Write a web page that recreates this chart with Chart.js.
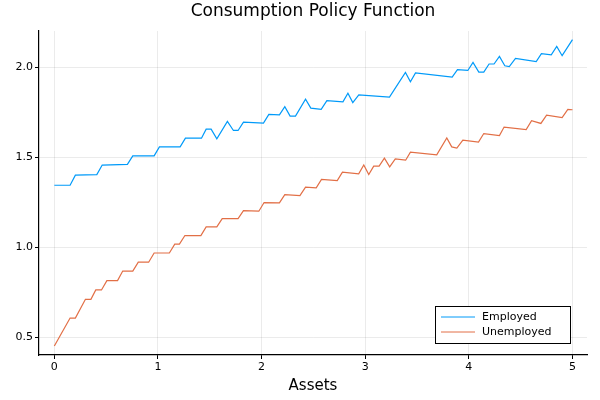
<!DOCTYPE html>
<html><head><meta charset="utf-8">
<script src="https://cdn.jsdelivr.net/npm/chart.js@4"></script>
<style>html,body{margin:0;padding:0;background:#fff}</style>
</head><body><canvas id="c" width="600" height="400" style="display:block"></canvas>
<script>
const empX=[0,0.152,0.203,0.41,0.462,0.705,0.757,0.963,1.014,1.214,1.265,1.42,1.465,1.513,1.568,1.67,1.728,1.773,1.825,2.018,2.07,2.172,2.224,2.275,2.327,2.424,2.475,2.575,2.63,2.785,2.833,2.88,2.938,3.234,3.388,3.436,3.485,3.839,3.89,3.99,4.04,4.096,4.144,4.195,4.243,4.295,4.347,4.39,4.45,4.65,4.70,4.795,4.848,4.90,5.0];
const empY=[1.344,1.344,1.40,1.403,1.456,1.46,1.507,1.507,1.557,1.557,1.605,1.605,1.655,1.655,1.602,1.698,1.648,1.648,1.694,1.689,1.737,1.735,1.78,1.728,1.728,1.822,1.772,1.765,1.813,1.807,1.855,1.803,1.846,1.833,1.97,1.918,1.967,1.944,1.985,1.981,2.026,1.972,1.972,2.017,2.017,2.059,2.007,2.003,2.048,2.03,2.074,2.068,2.114,2.063,2.152];
const unX=[0,0.152,0.203,0.30,0.353,0.40,0.455,0.507,0.61,0.66,0.757,0.81,0.91,0.963,1.11,1.162,1.207,1.26,1.414,1.465,1.568,1.62,1.773,1.825,1.973,2.024,2.172,2.224,2.37,2.424,2.527,2.578,2.73,2.78,2.937,2.986,3.034,3.082,3.134,3.185,3.236,3.29,3.39,3.436,3.69,3.787,3.835,3.884,3.942,4.093,4.144,4.295,4.34,4.553,4.605,4.695,4.75,4.90,4.955,5.0];
const unY=[0.452,0.607,0.607,0.711,0.711,0.763,0.763,0.815,0.815,0.868,0.868,0.917,0.917,0.968,0.968,1.017,1.017,1.065,1.065,1.113,1.113,1.159,1.159,1.203,1.20,1.248,1.246,1.292,1.287,1.333,1.33,1.376,1.37,1.417,1.407,1.456,1.403,1.45,1.45,1.494,1.446,1.49,1.483,1.528,1.513,1.607,1.557,1.55,1.594,1.583,1.631,1.62,1.667,1.653,1.702,1.687,1.733,1.72,1.765,1.763];
const seriesNames=["Employed","Unemployed"];
const colors=["#009af9","#e26f46"];
const xTicks=[0,1,2,3,4,5];
const yTicks=[0.5,1.0,1.5,2.0];
const pts=(xs,ys)=>xs.map((x,i)=>({x:x,y:ys[i]}));
const F="'DejaVu Sans', sans-serif";
const deco={id:'deco',afterDraw(ch){
  const c=ch.ctx,a=ch.chartArea;c.save();
  c.fillStyle='#000';c.font='17px '+F;c.textAlign='center';c.textBaseline='middle';
  c.fillText('Consumption Policy Function',(a.left+a.right)/2,12);
  c.font='15px '+F;c.fillText('Assets',(a.left+a.right)/2,386);
  const lx=435,ly=306,lw=135,lh=37;
  c.fillStyle='#fff';c.fillRect(lx,ly,lw,lh);c.strokeStyle='#000';c.lineWidth=1;c.strokeRect(lx+0.5,ly+0.5,lw,lh);
  c.font='11px '+F;c.textAlign='left';
  seriesNames.forEach((n,i)=>{const y=ly+11+i*15;c.strokeStyle=colors[i];c.beginPath();c.moveTo(lx+6,y);c.lineTo(lx+40,y);c.stroke();c.fillStyle='#000';c.fillText(n,lx+47,y);});
  c.restore();}};
new Chart(document.getElementById('c'),{type:'line',
data:{datasets:[{label:seriesNames[0],data:pts(empX,empY),borderColor:colors[0],borderWidth:1.2,pointRadius:0,tension:0},
{label:seriesNames[1],data:pts(unX,unY),borderColor:colors[1],borderWidth:1.2,pointRadius:0,tension:0}]},
options:{responsive:false,animation:false,devicePixelRatio:1,
layout:{padding:{top:31,right:13,bottom:0,left:0}},
plugins:{legend:{display:false},tooltip:{enabled:false}},
scales:{x:{type:'linear',min:-0.148,max:5.14,afterBuildTicks(s){s.ticks=xTicks.map(v=>({value:v}));},
  afterFit(s){s.height=45;},
  ticks:{color:'#000',font:{size:11,family:F},maxRotation:0,padding:2,callback:v=>String(v)},
  grid:{color:'rgba(0,0,0,0.08)',tickColor:'#000',tickLength:4},border:{color:'#000',width:1.2}},
 y:{min:0.402,max:2.2,afterBuildTicks(s){s.ticks=yTicks.map(v=>({value:v}));},
  afterFit(s){s.width=39;},
  ticks:{color:'#000',font:{size:11,family:F},padding:2,callback:v=>v.toFixed(1)},
  grid:{color:'rgba(0,0,0,0.08)',tickColor:'#000',tickLength:4},border:{color:'#000',width:1.2}}}},
plugins:[deco]});
</script></body></html>
